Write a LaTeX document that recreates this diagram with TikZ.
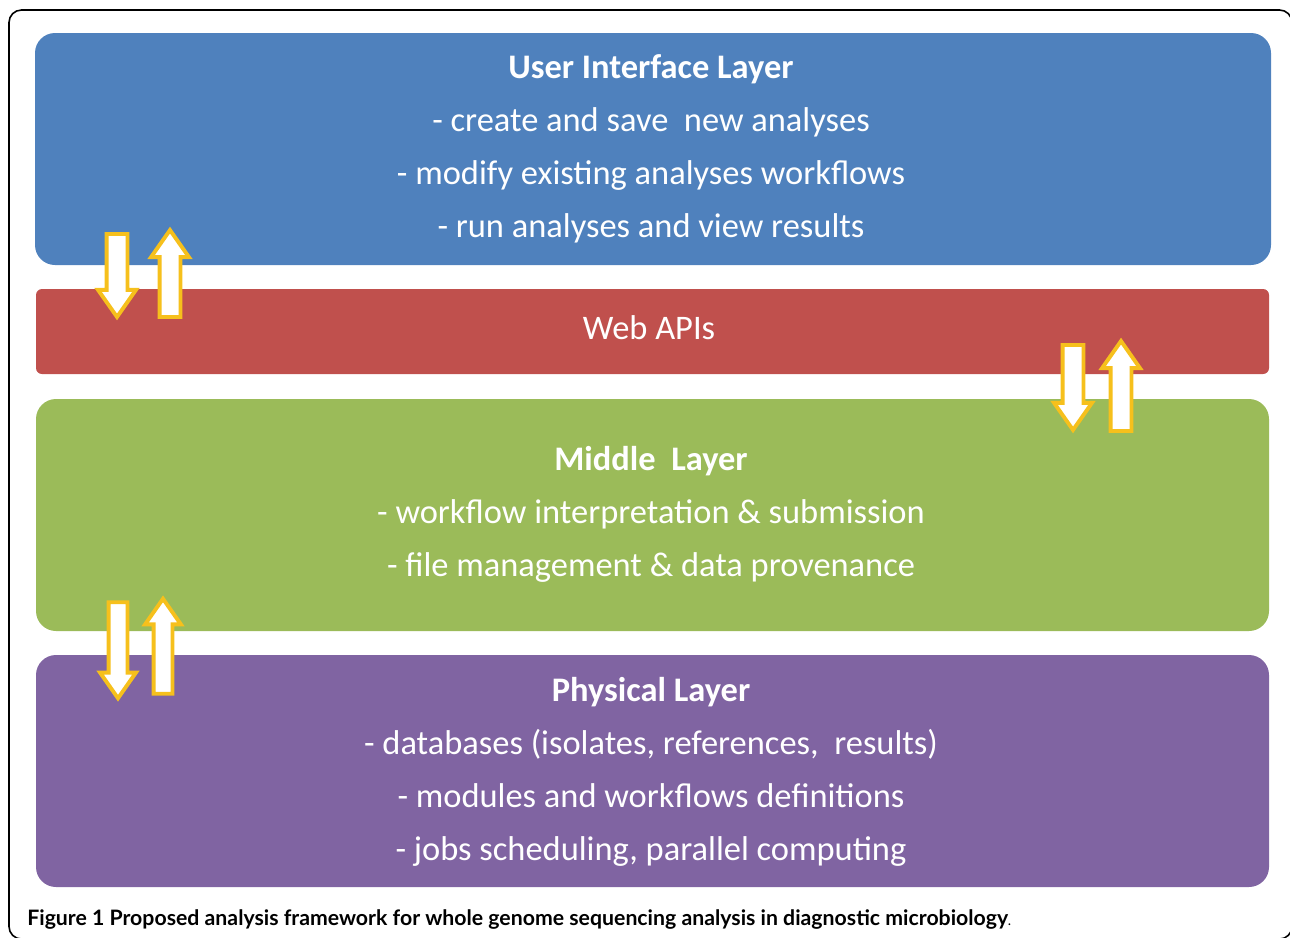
\documentclass[tikz,border=0pt]{standalone}
\usepackage{fontspec}
\setmainfont{Carlito}
\newfontfamily\capfont{Lato}
\usepackage{tikz}
\usetikzlibrary{shapes.arrows}
\definecolor{uiblue}{HTML}{4F81BD}
\definecolor{apired}{HTML}{C0504D}
\definecolor{midgreen}{HTML}{9BBB59}
\definecolor{physpurple}{HTML}{8064A2}
\definecolor{arrowgold}{HTML}{F6C01C}

\begin{document}
\begin{tikzpicture}[x=0.02cm, y=-0.02cm,
    layer/.style={rounded corners=0.4cm},
    layertext/.style={text=white, align=center, font=\fontsize{19.6}{30.2}\selectfont},
    updown/.style={single arrow, draw=arrowgold, fill=white, line width=2.2pt,
      inner sep=0.17cm, single arrow head extend=0.17cm,
      single arrow tip angle=70}]
  \useasboundingbox (0,0) rectangle (1290,937);
  \clip (0,0) rectangle (1290,937);
  % Frame
  \draw[line width=0.9pt, rounded corners=0.25cm] (9,10) rectangle (1292,939);
  % Layers
  \fill[layer, uiblue] (35,33) rectangle (1271,265);
  \fill[layer, apired, rounded corners=0.12cm] (36,289) rectangle (1269,374);
  \fill[layer, midgreen] (36,399) rectangle (1269,631);
  \fill[layer, physpurple] (36,655) rectangle (1269,887);
  % User interface layer
  \node[layertext] (ui) at (651,149) {\textbf{User Interface Layer}\\
    - create and save\ \ new analyses\\
    - modify existing analyses workflows\\
    - run analyses and view results};
  % Web APIs
  \node[layertext] (api) at (649,328) {Web APIs};
  % Middle layer
  \node[layertext] (mid) at (651,514) {\textbf{Middle\ \ Layer}\\
    - workflow interpretation \& submission\\
    - file management \& data provenance};
  % Physical layer
  \node[layertext] (phys) at (651,772) {\textbf{Physical Layer}\\
    - databases (isolates, references,\ \ results)\\
    - modules and workflows definitions\\
    - jobs scheduling,\ parallel computing};
  % Arrows between layers
  \node[updown, minimum height=1.66cm, shape border rotate=270] (ui-down) at (117,268) {};
  \node[updown, minimum height=1.74cm, shape border rotate=90] (ui-up) at (170,281) {};
  \node[updown, minimum height=1.70cm, shape border rotate=270] (api-down) at (1073,380) {};
  \node[updown, minimum height=1.80cm, shape border rotate=90] (api-up) at (1121,393.5) {};
  \node[updown, minimum height=1.92cm, inner sep=0.15cm, shape border rotate=270] (mid-down) at (118,643.5) {};
  \node[updown, minimum height=1.90cm, inner sep=0.15cm, shape border rotate=90] (mid-up) at (163,653) {};
  % Caption
  \node[anchor=base west, inner sep=0pt, font=\capfont\bfseries\fontsize{12.1}{14}\selectfont] (caption) at (27,925)
    {Figure 1 Proposed analysis framework for whole genome sequencing analysis in diagnostic microbiology{\mdseries\fontsize{8}{10}\selectfont.}};
\end{tikzpicture}
\end{document}
